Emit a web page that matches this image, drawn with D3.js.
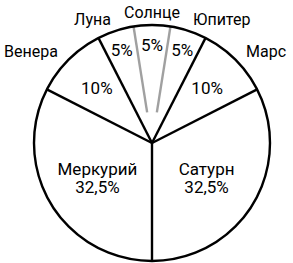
<!DOCTYPE html>
<html>
<head>
<meta charset="utf-8">
<script src="https://cdn.jsdelivr.net/npm/d3@7"></script>
<style>
  body { margin: 0; background: #fff; }
  svg text { font-family: Roboto, "Liberation Sans", sans-serif; fill: #000; }
</style>
</head>
<body>
<script>
// slices clockwise from the bottom of the circle
var planets = ["Меркурий", "Венера", "Луна", "Солнце", "Юпитер", "Марс", "Сатурн"];
var shares = [32.5, 10, 5, 5, 5, 10, 32.5];
var shareLabels = ["32,5%", "10%", "5%", "5%", "5%", "10%", "32,5%"];
var innerNames = ["Меркурий", "Сатурн"];   // name written inside the slice
var greyed = ["Солнце"];                     // slice drawn with grey borders

var width = 293,
    height = 263,
    cx = 152,
    cy = 143,
    radius = 118;

var svg = d3.select("body").append("svg")
    .attr("width", width)
    .attr("height", height)
    .append("g")
    .attr("transform", "translate(" + cx + "," + cy + ")");

var data = planets.map(function(p, i) {
    return { name: p, value: shares[i], label: shareLabels[i] };
});

var pie = d3.pie()
    .sort(null)
    .startAngle(-Math.PI)
    .endAngle(Math.PI)
    .value(function(d) { return d.value; });

var arcs = pie(data);

var arc = d3.arc()
    .innerRadius(0)
    .outerRadius(radius);

// label radius depends on slice size
var labelR = d3.scaleLinear()
    .domain([5, 10, 32.5])
    .range([98, 78, 64]);

var outerArc = d3.arc()
    .innerRadius(radius + 15)
    .outerRadius(radius + 15);

svg.selectAll(".slice")
    .data(arcs)
    .enter().append("path")
    .attr("class", "slice")
    .attr("d", arc)
    .style("fill", "#fff");

// borders between slices
var borders = [];
arcs.forEach(function(d, i) {
    var prev = arcs[(i + arcs.length - 1) % arcs.length];
    var grey = greyed.indexOf(d.data.name) >= 0 || greyed.indexOf(prev.data.name) >= 0;
    borders.push({ angle: d.startAngle, grey: grey });
});

svg.selectAll(".border")
    .data(borders)
    .enter().append("line")
    .attr("class", "border")
    .attr("x1", function(d) { return d.grey ? 31 * Math.sin(d.angle) : 0; })
    .attr("y1", function(d) { return d.grey ? -31 * Math.cos(d.angle) : 0; })
    .attr("x2", function(d) { return radius * Math.sin(d.angle); })
    .attr("y2", function(d) { return -radius * Math.cos(d.angle); })
    .attr("stroke", function(d) { return d.grey ? "#a0a0a0" : "#000"; })
    .attr("stroke-width", 2.4);

svg.append("circle")
    .attr("r", radius)
    .style("fill", "none")
    .attr("stroke", "#000")
    .attr("stroke-width", 2.4);

// values inside the slices
var inner = svg.selectAll(".inner")
    .data(arcs)
    .enter().append("text")
    .attr("class", "inner")
    .attr("transform", function(d) {
        var a = (d.startAngle + d.endAngle) / 2,
            r = labelR(d.data.value);
        return "translate(" + (r * Math.sin(a)) + "," + (-r * Math.cos(a)) + ")";
    })
    .attr("font-size", "17px")
    .style("text-anchor", "middle");

inner.each(function(d) {
    var t = d3.select(this);
    if (innerNames.indexOf(d.data.name) >= 0) {
        t.append("tspan").attr("x", 0).attr("dy", "-0.1em").text(d.data.name);
        t.append("tspan").attr("x", 0).attr("dy", "1.06em").text(d.data.label);
    } else {
        t.append("tspan").attr("x", 0).attr("dy", "0.36em").text(d.data.label);
    }
});

// names outside the circle
svg.selectAll(".outer")
    .data(arcs.filter(function(d) { return innerNames.indexOf(d.data.name) < 0; }))
    .enter().append("text")
    .attr("class", "outer")
    .attr("transform", function(d) {
        var c = outerArc.centroid(d);
        return "translate(" + c[0] + "," + c[1] + ")";
    })
    .attr("dy", "0.5em")
    .attr("font-size", "16px")
    .style("text-anchor", function(d) {
        var a = (d.startAngle + d.endAngle) / 2;
        if (Math.abs(Math.sin(a)) < 0.1) return "middle";
        return Math.sin(a) < 0 ? "end" : "start";
    })
    .text(function(d) { return d.data.name; });
</script>
</body>
</html>
